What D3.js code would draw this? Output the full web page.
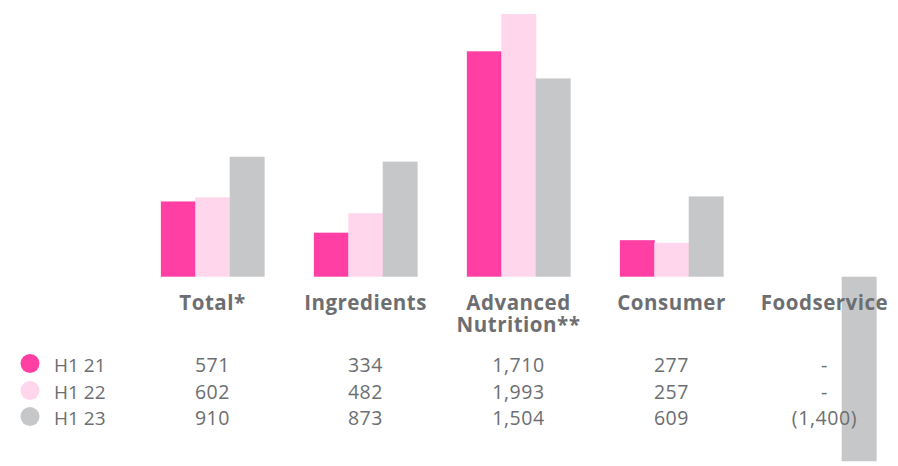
<!DOCTYPE html>
<html>
<head>
<meta charset="utf-8">
<script src="https://cdn.jsdelivr.net/npm/d3@7"></script>
<style>
  html, body { margin: 0; padding: 0; background: #ffffff; }
  svg { display: block; }
  text { font-family: "Open Sans", "Noto Sans", sans-serif; fill: #6d6e71; }
</style>
</head>
<body>
<svg id="chart" width="898" height="466"></svg>
<script>
// Segment results by half-year
const categories = ["Total*", "Ingredients", "Advanced Nutrition**", "Consumer", "Foodservice"];
const seriesNames = ["H1 21", "H1 22", "H1 23"];
const h121 = [571, 334, 1710, 277, null];
const h122 = [602, 482, 1993, 257, null];
const h123 = [910, 873, 1504, 609, -1400];
const valueLabels = [
  ["571", "334", "1,710", "277", "-"],
  ["602", "482", "1,993", "257", "-"],
  ["910", "873", "1,504", "609", "(1,400)"]
];
const colors = ["#ff3fa4", "#ffd6ec", "#c6c7c9"];

const series = [h121, h122, h123];

const svg = d3.select("#chart");

const x0 = d3.scaleBand()
  .domain(categories)
  .range([136, 901])
  .paddingInner(0.325)
  .paddingOuter(0.1625);

const x1 = d3.scaleBand()
  .domain(seriesNames)
  .range([0, x0.bandwidth()])
  .padding(0);

const y = d3.scaleLinear()
  .domain([0, 1993])
  .range([276.7, 14]);

// Bars (positive and negative), drawn beneath all text
const groups = svg.append("g").selectAll("g")
  .data(categories)
  .join("g")
  .attr("transform", d => `translate(${x0(d)},0)`);

groups.selectAll("rect")
  .data((c, i) => seriesNames.map((s, j) => ({ s, j, v: series[j][i] })).filter(d => d.v !== null))
  .join("rect")
  .attr("x", d => x1(d.s))
  .attr("width", x1.bandwidth() + 0.5)
  .attr("y", d => Math.min(y(d.v), y(0)))
  .attr("height", d => Math.abs(y(d.v) - y(0)))
  .attr("fill", d => colors[d.j]);

// Category labels
const labels = svg.append("g").selectAll("text")
  .data(categories)
  .join("text")
  .attr("x", d => x0(d) + x0.bandwidth() / 2)
  .attr("y", 310)
  .attr("text-anchor", "middle")
  .attr("font-size", 20.5)
  .attr("font-weight", 700)
  .attr("letter-spacing", 0.5);

labels.each(function (d) {
  const t = d3.select(this);
  if (d === "Advanced Nutrition**") {
    t.append("tspan").attr("x", t.attr("x")).attr("dy", 0).text("Advanced");
    t.append("tspan").attr("x", t.attr("x")).attr("dy", 22).text("Nutrition**");
  } else {
    t.text(d);
  }
});

// Legend and value table
const rowY = [372, 399, 425];

const legend = svg.append("g");
legend.selectAll("circle")
  .data(seriesNames)
  .join("circle")
  .attr("cx", 30)
  .attr("cy", (d, i) => rowY[i] - 8.5)
  .attr("r", 9.5)
  .attr("fill", (d, i) => colors[i]);

legend.selectAll("text")
  .data(seriesNames)
  .join("text")
  .attr("x", 54)
  .attr("y", (d, i) => rowY[i])
  .attr("font-size", 19)
  .text(d => d);

svg.append("g").selectAll("g")
  .data(valueLabels)
  .join("g")
  .selectAll("text")
  .data((row, i) => row.map((v, k) => ({ v, k, i })))
  .join("text")
  .attr("x", d => x0(categories[d.k]) + x0.bandwidth() / 2)
  .attr("y", d => rowY[d.i])
  .attr("text-anchor", "middle")
  .attr("font-size", 19.5)
  .attr("letter-spacing", 0.6)
  .text(d => d.v);
</script>
</body>
</html>
